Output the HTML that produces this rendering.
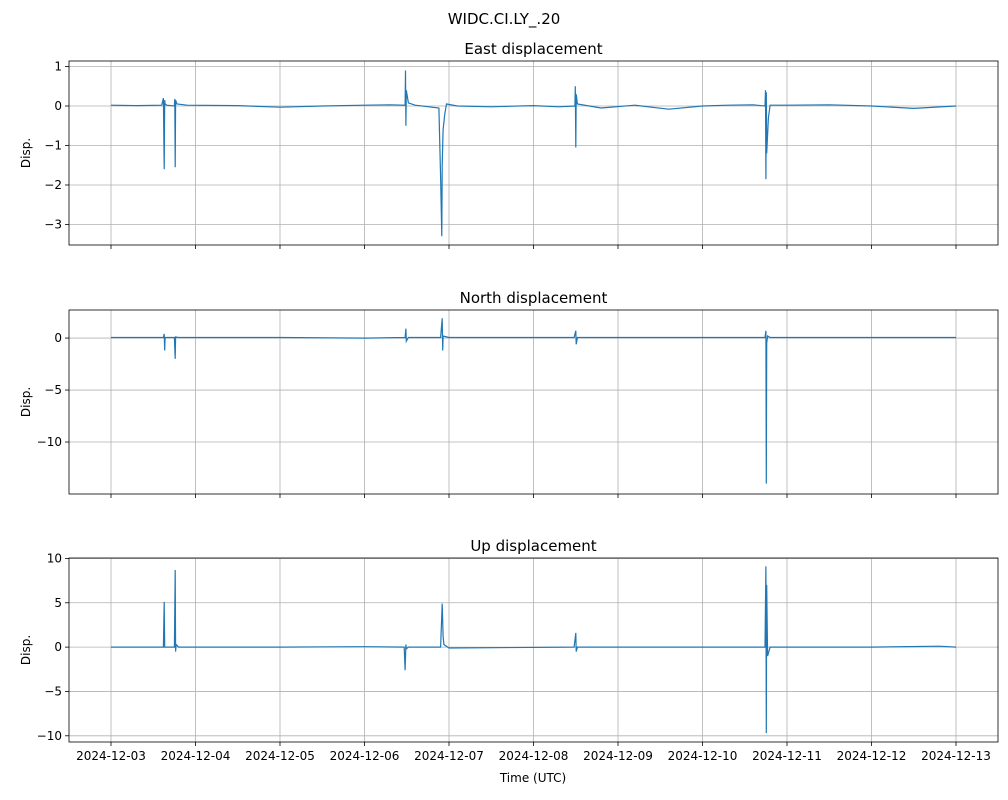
<!DOCTYPE html>
<html><head><meta charset="utf-8"><style>
body{margin:0;background:#fff;font-family:"Liberation Sans","DejaVu Sans",sans-serif}
svg text{font-family:"DejaVu Sans","Liberation Sans",sans-serif;fill:#000}
</style></head><body>
<svg id="c" width="1008" height="795"></svg>
<script>
// x: days since 2024-12-03
const xTickLabels=["2024-12-03","2024-12-04","2024-12-05","2024-12-06","2024-12-07","2024-12-08","2024-12-09","2024-12-10","2024-12-11","2024-12-12","2024-12-13"];
const eastT=[0,0.3,0.6,0.62,0.63,0.635,0.64,0.66,0.75,0.755,0.76,0.765,0.78,0.9,1.5,2.0,2.5,3.0,3.3,3.48,3.485,3.49,3.495,3.52,3.6,3.88,3.9,3.915,3.92,3.93,3.95,3.97,4.1,4.5,5.0,5.3,5.49,5.495,5.5,5.505,5.52,5.8,6.2,6.6,7.0,7.3,7.6,7.74,7.745,7.75,7.755,7.76,7.78,7.8,8.0,8.5,9.0,9.5,10.0];
const eastV=[0.02,0.01,0.02,0.2,-1.6,0.15,0.05,0.02,0.0,0.18,-1.55,0.15,0.05,0.02,0.01,-0.03,0.0,0.02,0.03,0.02,0.9,-0.5,0.4,0.08,0.02,-0.05,-1.8,-3.3,-1.5,-0.6,-0.2,0.05,0.0,-0.02,0.01,-0.02,0.0,0.5,-1.05,0.3,0.05,-0.05,0.02,-0.08,0.0,0.02,0.03,0.0,0.4,-1.85,0.35,-1.2,-0.3,0.02,0.02,0.03,0.0,-0.06,0.0];
const northT=[0,0.62,0.63,0.635,0.64,0.75,0.76,0.765,0.8,2,3,3.48,3.49,3.495,3.52,3.9,3.92,3.925,3.93,4.0,5.48,5.5,5.505,5.52,6.5,7.74,7.75,7.755,7.76,7.77,7.8,9,10];
const northV=[0.05,0.05,0.4,-1.2,0.05,0.05,-2.0,0.1,0.05,0.05,0.0,0.05,0.9,-0.3,0.05,0.05,1.9,-1.2,0.2,0.05,0.05,0.7,-0.6,0.05,0.05,0.05,0.7,-14.0,-0.5,0.2,0.05,0.05,0.05];
const upT=[0,0.62,0.63,0.635,0.64,0.75,0.76,0.765,0.77,0.8,2,3,3.47,3.48,3.49,3.495,3.52,3.9,3.92,3.93,3.94,4.0,5.48,5.5,5.505,5.52,6.5,7.74,7.75,7.755,7.76,7.77,7.8,9,9.8,10];
const upV=[0.0,0.0,5.1,0.0,0.0,0.0,8.7,-0.5,0.3,0.0,0.0,0.05,0.0,-2.6,0.3,-0.2,0.0,0.0,4.9,1.2,0.3,-0.1,0.0,1.6,-0.5,0.0,0.0,0.0,9.1,-9.7,7.0,-1,0.0,0.0,0.1,0.0];
const panels=[
 {title:"East displacement",top:61,bot:245,ymin:-3.52,ymax:1.14,ticks:[1,0,-1,-2,-3],t:eastT,v:eastV,name:"east"},
 {title:"North displacement",top:310,bot:494,ymin:-15.0,ymax:2.7,ticks:[0,-5,-10],t:northT,v:northV,name:"north"},
 {title:"Up displacement",top:558,bot:742,ymin:-10.7,ymax:10.05,ticks:[10,5,0,-5,-10],t:upT,v:upV,name:"up"}];
const L=69,R=998,svg=document.getElementById('c'),NS="http://www.w3.org/2000/svg";
const xs=d=>111+d*84.5;
function mk(tag,a,txt){const e=document.createElementNS(NS,tag);for(const k in a)e.setAttribute(k,a[k]);if(txt!=null)e.textContent=txt;svg.appendChild(e);return e;}
const st=mk('text',{x:504,y:24,'font-size':15,'text-anchor':'middle'},"WIDC.CI.LY_.20");

panels.forEach((p,pi)=>{
 const ys=v=>p.top+(p.ymax-v)/(p.ymax-p.ymin)*(p.bot-p.top);
 xTickLabels.forEach((lab,i)=>{
  const x=xs(i);
  const g=mk('line',{x1:x,x2:x,y1:p.top,y2:p.bot,stroke:'#b0b0b0','stroke-width':0.8});
  
  mk('line',{x1:x,x2:x,y1:p.bot,y2:p.bot+4,stroke:'#000','stroke-width':0.8});
  if(pi==2){const t=mk('text',{x:x,y:p.bot+18,'font-size':12,'text-anchor':'middle'},lab);
   }
 });
 p.ticks.forEach(v=>{
  const y=ys(v);
  const g=mk('line',{x1:L,x2:R,y1:y,y2:y,stroke:'#b0b0b0','stroke-width':0.8});
  
  mk('line',{x1:L-4,x2:L,y1:y,y2:y,stroke:'#000','stroke-width':0.8});
  const t=mk('text',{x:L-7,y:y+4,'font-size':12,'text-anchor':'end'},v<0?'\u2212'+(-v):String(v));
  
 });
 const pts=p.t.map((d,i)=>xs(d).toFixed(1)+','+ys(p.v[i]).toFixed(1)).join(' ');
 const pl=mk('polyline',{points:pts,fill:'none',stroke:'#1f77b4','stroke-width':1.2});
 
 const fr=mk('rect',{x:L,y:p.top,width:R-L,height:p.bot-p.top,fill:'none',stroke:'#000','stroke-width':0.8});
 
 const tt=mk('text',{x:(L+R)/2,y:p.top-7,'font-size':15,'text-anchor':'middle'},p.title);
 
 const yl=mk('text',{x:0,y:0,'font-size':12,'text-anchor':'middle',transform:`translate(30,${(p.top+p.bot)/2}) rotate(-90)`},"Disp.");
 
});
const xl=mk('text',{x:533,y:782,'font-size':12,'text-anchor':'middle'},"Time (UTC)");

</script>
</body></html>
